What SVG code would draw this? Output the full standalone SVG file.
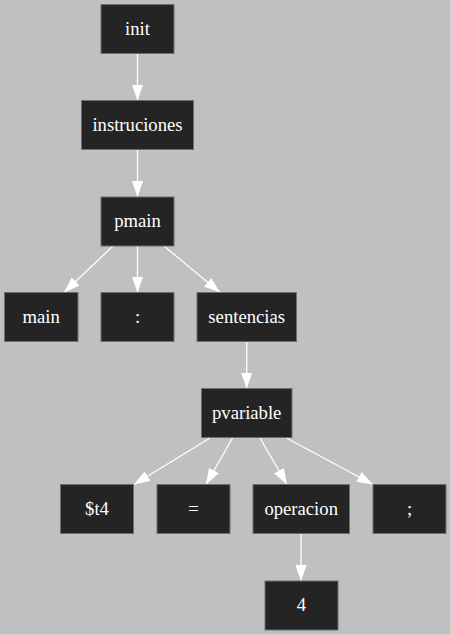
<svg xmlns="http://www.w3.org/2000/svg" width="451" height="635" viewBox="0 0 451 635">
<style>
.node rect{fill:#242424;stroke:#6e6e6e;stroke-width:1}
.node text{fill:#ffffff;font-family:"Liberation Serif","Times New Roman",serif;font-size:18.67px;text-anchor:middle}
.edge{stroke:#ffffff;stroke-width:1.33;fill:none;marker-end:url(#arrow)}
</style>
<defs>
<marker id="arrow" markerUnits="userSpaceOnUse" markerWidth="16" markerHeight="12" viewBox="0 0 13.33 9.34" refX="13.33" refY="4.67" orient="auto">
<path d="M0,0 L13.33,4.67 L0,9.34 Z" fill="#ffffff"/>
</marker>
</defs>
<rect x="0" y="0" width="451" height="635" fill="#cfcfcf"/>
<rect x="0" y="0" width="450" height="634" fill="#c0c0c0"/>
<g id="edges">
<line class="edge" x1="137.5" y1="54" x2="137.5" y2="100.5"/>
<line class="edge" x1="137.5" y1="150" x2="137.5" y2="197"/>
<line class="edge" x1="113" y1="246" x2="64" y2="292.5"/>
<line class="edge" x1="137.5" y1="246" x2="137.5" y2="292.5"/>
<line class="edge" x1="164" y1="246" x2="220" y2="292.5"/>
<line class="edge" x1="246.7" y1="342" x2="246.7" y2="388.5"/>
<line class="edge" x1="210" y1="438" x2="134" y2="484.5"/>
<line class="edge" x1="232.5" y1="438" x2="206" y2="484.5"/>
<line class="edge" x1="260" y1="438" x2="287" y2="484.5"/>
<line class="edge" x1="286.5" y1="438" x2="373" y2="484.5"/>
<line class="edge" x1="301" y1="534" x2="301" y2="581"/>
</g>
<g id="init" class="node"><rect x="101" y="4.5" width="73" height="49"/><text x="137.5" y="34.5">init</text></g>
<g id="instruciones" class="node"><rect x="81.5" y="100.5" width="112" height="49"/><text x="137.5" y="130.5">instruciones</text></g>
<g id="pmain" class="node"><rect x="101" y="197" width="73" height="49"/><text x="137.5" y="227">pmain</text></g>
<g id="main" class="node"><rect x="4.5" y="292.5" width="73.5" height="49"/><text x="41.2" y="322.5">main</text></g>
<g id="colon" class="node"><rect x="101" y="292.5" width="73" height="49"/><text x="137.5" y="322.5">:</text></g>
<g id="sentencias" class="node"><rect x="197" y="292.5" width="99.5" height="49"/><text x="246.7" y="322.5">sentencias</text></g>
<g id="pvariable" class="node"><rect x="201.5" y="388.5" width="90.5" height="49"/><text x="246.7" y="418.5">pvariable</text></g>
<g id="t4" class="node"><rect x="60.5" y="484.5" width="73" height="49"/><text x="97" y="514.5">$t4</text></g>
<g id="eq" class="node"><rect x="157" y="484.5" width="73" height="49"/><text x="193.5" y="514.5">=</text></g>
<g id="operacion" class="node"><rect x="253" y="484.5" width="96.5" height="49"/><text x="301.2" y="514.5">operacion</text></g>
<g id="semicolon" class="node"><rect x="373" y="484.5" width="73" height="49"/><text x="409.5" y="514.5">;</text></g>
<g id="four" class="node"><rect x="265" y="581" width="73" height="49"/><text x="301.5" y="611">4</text></g>
</svg>
